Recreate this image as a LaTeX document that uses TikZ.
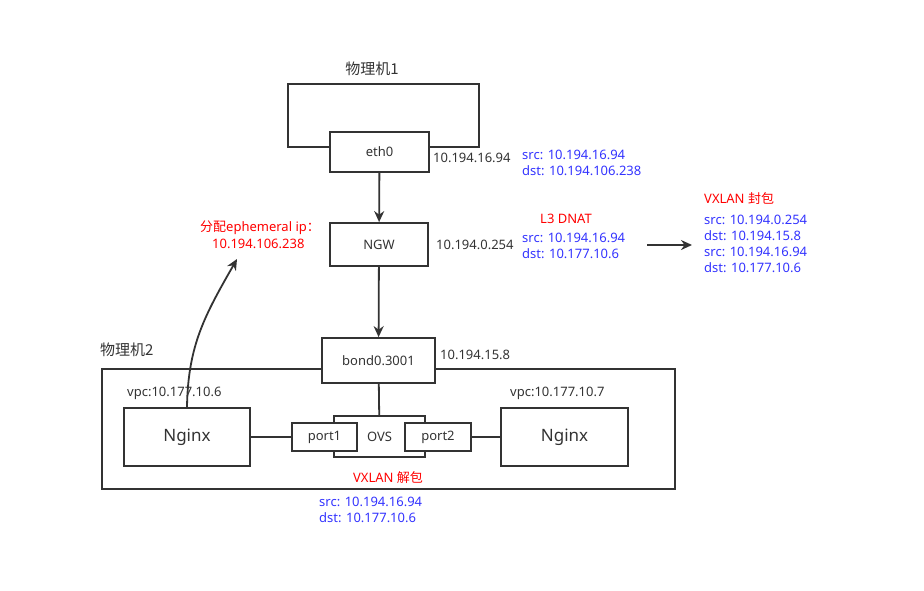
\documentclass[tikz,border=0pt]{standalone}
\usepackage{fontspec}
\setmainfont{Noto Sans}
\newfontfamily\cjk{Noto Sans CJK SC}
\usetikzlibrary{arrows.meta}

\definecolor{txtgray}{HTML}{333333}
\definecolor{pktblue}{HTML}{3333FF}
\definecolor{notered}{HTML}{FF0000}

\tikzset{
  box/.style={draw=txtgray, line width=1.8pt, fill=white, text=txtgray,
    font=\fontsize{13}{15}\selectfont},
  ip/.style={text=txtgray, font=\fontsize{13}{15}\selectfont, inner sep=0pt},
  pkt/.style={text=pktblue, font=\fontsize{13}{16}\selectfont, align=left, inner sep=0pt},
  note/.style={text=notered, font=\fontsize{13}{16}\selectfont, inner sep=0pt},
  arr/.style={draw=txtgray, line width=1.8pt, -{Stealth[length=11pt,width=10pt]}},
  wire/.style={draw=txtgray, line width=1.8pt},
}

\begin{document}
\begin{tikzpicture}[x=1pt,y=-1pt]
\useasboundingbox (0,0) rectangle (924,590);

% physical host 1
\draw[wire] (288,84) rectangle (479,147);
\node[ip, font=\cjk\fontsize{15}{17}\selectfont] (host1) at (372,69) {物理机1};
\node[box, minimum width=99pt, minimum height=40pt] (eth0) at (379.5,152) {eth0};
\node[ip, anchor=west] (eth0ip) at (433,158) {10.194.16.94};
\node[pkt, anchor=west] (pkt1) at (522,163) {src: 10.194.16.94\\dst: 10.194.106.238};

% NGW
\node[box, minimum width=98pt, minimum height=43pt] (ngw) at (379,244.5) {NGW};
\node[ip, anchor=west] (ngwip) at (436,245) {10.194.0.254};
\node[note] (dnat) at (566,219) {L3 DNAT};
\node[pkt, anchor=west] (pkt2) at (522,246) {src: 10.194.16.94\\dst: 10.177.10.6};

% VXLAN encap
\coordinate (encA) at (647,245);
\coordinate (encB) at (692,245);
\draw[arr] (encA) -- (encB);
\node[note, anchor=west] (encap) at (704,199) {VXLAN {\cjk 封包}};
\node[pkt, anchor=west] (pkt3) at (704,244) {src: 10.194.0.254\\dst: 10.194.15.8\\src: 10.194.16.94\\dst: 10.177.10.6};

% ephemeral ip
\node[note, anchor=west] (eph1) at (200,228) {{\cjk 分配}ephemeral ip{\cjk ：}};
\node[note, anchor=west] (eph2) at (212,244) {10.194.106.238};
\coordinate (ephTip) at (237,259);

% physical host 2
\draw[wire] (102,369) rectangle (675,489);
\node[ip, anchor=west, font=\cjk\fontsize{15}{17}\selectfont] (host2) at (100,350) {物理机2};
\node[box, minimum width=113pt, minimum height=45pt] (bond) at (378.5,360.5) {bond0.3001};
\node[ip, anchor=west] (bondip) at (440,355) {10.194.15.8};

% vpc
\node[ip, anchor=west] (vpcA) at (127,393) {vpc:10.177.10.6};
\node[ip, anchor=west] (vpcB) at (510,393) {vpc:10.177.10.7};
\node[box, minimum width=126pt, minimum height=58pt, font=\fontsize{17}{19}\selectfont] (nginxA) at (187,437) {Nginx};
\node[box, minimum width=127pt, minimum height=58pt, font=\fontsize{17}{19}\selectfont] (nginxB) at (564.5,437) {Nginx};

% OVS
\node[box, minimum width=91pt, minimum height=41pt] (ovs) at (379.5,436.5) {OVS};
\node[box, minimum width=65pt, minimum height=28pt] (portA) at (324.5,437) {port1};
\node[box, minimum width=66pt, minimum height=28pt] (portB) at (438,437) {port2};

% VXLAN decap
\node[note] (decap) at (388,478) {VXLAN {\cjk 解包}};
\node[pkt, anchor=west] (pkt4) at (319,509.5) {src: 10.194.16.94\\dst: 10.177.10.6};

% connectors
\draw[arr] (eth0) -- (ngw);
\draw[arr] (ngw) -- (bond);
\draw[wire] (bond) -- (ovs);
\draw[wire] (nginxA) -- (portA);
\draw[wire] (portB) -- (nginxB);
\draw[arr] (nginxA.north) .. controls (188,345) and (205,315) .. (ephTip);
\end{tikzpicture}
\end{document}
